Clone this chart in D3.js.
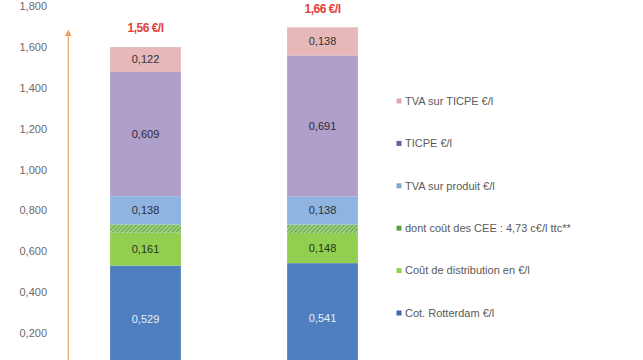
<!DOCTYPE html>
<html><head><meta charset="utf-8">
<script src="https://cdn.jsdelivr.net/npm/d3@7/dist/d3.min.js"></script>
<style>body{margin:0;background:#fff;}svg{display:block;font-family:"Liberation Sans",Arial,sans-serif;}</style>
</head><body>
<svg id="c" width="643" height="360"></svg>
<script>
const categories = ["Période 1", "Période 2"];
const seriesNames = ["Cot. Rotterdam €/l", "Coût de distribution en €/l", "dont coût des CEE : 4,73 c€/l ttc**", "TVA sur produit €/l", "TICPE €/l", "TVA sur TICPE €/l"];
const rotterdam = [0.529, 0.541];
const distribution = [0.161, 0.148];
const cee = [0.041, 0.041];
const tvaProduit = [0.138, 0.138];
const ticpe = [0.609, 0.691];
const tvaTicpe = [0.122, 0.138];
const totalLabels = ["1,56 €/l", "1,66 €/l"];
const yTicks = [0.2, 0.4, 0.6, 0.8, 1.0, 1.2, 1.4, 1.6, 1.8];

const keys = ["rotterdam","distribution","cee","tvaProduit","ticpe","tvaTicpe"];
const valuesByKey = {rotterdam, distribution, cee, tvaProduit, ticpe, tvaTicpe};
const barColors = {rotterdam:"#4f7fbf", distribution:"#92cf50", cee:"url(#hatch)", tvaProduit:"#8fb4e2", ticpe:"#ae9fcb", tvaTicpe:"#e6b8b9"};
const legendColors = {rotterdam:"#3f68ae", distribution:"#8fd055", cee:"#5f9e48", tvaProduit:"#7ea6d6", ticpe:"#6c5b9c", tvaTicpe:"#e0a9b0"};
const labelColors = {rotterdam:"#e9eff8", distribution:"#22361a", tvaProduit:"#2a2f3a", ticpe:"#2d2a33", tvaTicpe:"#333"};

const rows = categories.map((c,i)=>{const r={cat:c}; keys.forEach(k=>r[k]=valuesByKey[k][i]); return r;});
const stack = d3.stack().keys(keys)(rows);

const svg = d3.select("#c");
const defs = svg.append("defs");
const pat = defs.append("pattern").attr("id","hatch").attr("patternUnits","userSpaceOnUse")
  .attr("width",3).attr("height",3).attr("patternTransform","rotate(45)");
pat.append("rect").attr("width",3).attr("height",3).attr("fill","#a6d98a");
pat.append("rect").attr("width",1.4).attr("height",3).attr("fill","#6aa84a");

const y = d3.scaleLinear().domain([0,1.8]).range([373.5, 6.3]);
const x = d3.scaleBand().domain(categories).range([57,411]).paddingInner(0.6).paddingOuter(0.3);

const fmt = v => d3.format(".3f")(v).replace(".", ",");

// y axis labels
const ax = svg.append("g").attr("transform","translate(50,0)")
  .call(d3.axisLeft(y).tickValues(yTicks).tickSize(0).tickPadding(3).tickFormat(fmt));
ax.select(".domain").remove();
ax.selectAll("text").attr("fill","#6a6a6a").style("font-size","11px").style("font-family","'Liberation Sans',Arial,sans-serif");

// arrow
svg.append("line").attr("x1",68.3).attr("x2",68.3).attr("y1",35).attr("y2",360)
  .attr("stroke","#e8a365").attr("stroke-width",1.2);
svg.append("path").attr("d","M68.3,29.5 L65,36 L71.6,36 Z").attr("fill","#e8a365");

// bars
stack.forEach(s=>{
  const g = svg.append("g");
  g.selectAll("rect").data(s).join("rect")
    .attr("x", d=>x(d.data.cat)).attr("width", x.bandwidth())
    .attr("y", d=>y(d[1])).attr("height", d=>y(d[0])-y(d[1]))
    .attr("fill", barColors[s.key]);
  if (s.key !== "cee") {
    g.selectAll("text").data(s).join("text")
      .attr("x", d=>x(d.data.cat)+x.bandwidth()/2)
      .attr("y", d=>(y(d[0])+y(d[1]))/2)
      .attr("dy","0.35em").attr("text-anchor","middle")
      .attr("fill", labelColors[s.key]).style("font-size","11px")
      .text(d=>fmt(d[1]-d[0]));
  }
});

// totals
const topLayer = stack[stack.length-1];
svg.append("g").selectAll("text").data(topLayer).join("text")
  .attr("x", d=>x(d.data.cat)+x.bandwidth()/2)
  .attr("y", d=>y(d[1])-19)
  .attr("dy","0.35em").attr("text-anchor","middle")
  .attr("fill","#e2403c").style("font-size","12px").style("font-weight","bold")
  .style("letter-spacing","-0.5px")
  .text((d,i)=>totalLabels[i]);

// legend (top to bottom, reversed)
const legKeys = keys.slice().reverse();
const legNames = seriesNames.slice().reverse();
const lg = svg.append("g");
legKeys.forEach((k,i)=>{
  const yy = 101 + i*42.4;
  lg.append("rect").attr("x",396.5).attr("y",yy-2.5).attr("width",5).attr("height",5).attr("fill",legendColors[k]);
  lg.append("text").attr("x",405).attr("y",yy).attr("dy","0.35em")
    .attr("fill","#5a5a5a").style("font-size","11px").text(legNames[i]);
});
</script>
</body></html>
